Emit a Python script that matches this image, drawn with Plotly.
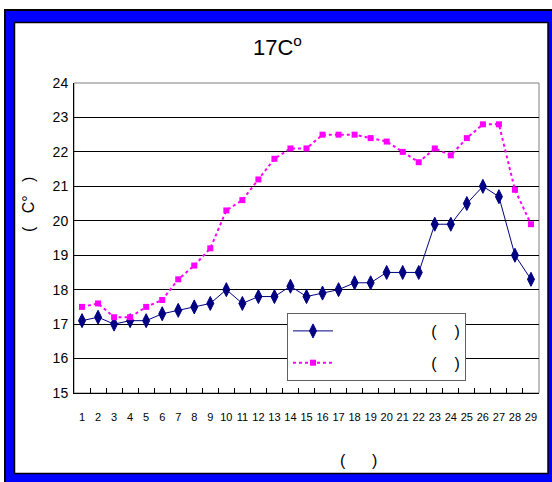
import plotly.graph_objects as go

# ---- data ----
days = [str(i) for i in range(1, 30)]
series1 = [17.1, 17.2, 17.0, 17.1, 17.1, 17.3, 17.4, 17.5, 17.6, 18.0,
           17.6, 17.8, 17.8, 18.1, 17.8, 17.9, 18.0, 18.2, 18.2, 18.5,
           18.5, 18.5, 19.9, 19.9, 20.5, 21.0, 20.7, 19.0, 18.3]
series2 = [17.5, 17.6, 17.2, 17.2, 17.5, 17.7, 18.3, 18.7, 19.2, 20.3,
           20.6, 21.2, 21.8, 22.1, 22.1, 22.5, 22.5, 22.5, 22.4, 22.3,
           22.0, 21.7, 22.1, 21.9, 22.4, 22.8, 22.8, 20.9, 19.9]
y_ticks = list(range(15, 25))

NB = "\u00a0"
name1 = NB * 21 + "(" + NB * 4 + ")"
name2 = NB * 21 + "(" + NB * 4 + ")"
title_text = "17C<sup>o</sup>"
ytitle_text = "(" + NB * 3 + "C°" + NB * 3 + ")"
xtitle_text = "(" + NB * 6 + ")"

# ---- geometry (pixel -> paper) ----
W, H = 552, 482
L, R, T, B = 74, 13, 83, 89
PW, PH = W - L - R, H - T - B


def px(X):
    return (X - L) / PW


def py(Y):
    return (H - B - Y) / PH


FONT = "Arial, Liberation Sans, sans-serif"

fig = go.Figure()
fig.add_trace(go.Scatter(
    x=days, y=series1, name=name1, mode="lines+markers",
    line=dict(color="#000080", width=1),
    marker=dict(symbol="diamond-tall", size=10, color="#000080",
                line=dict(color="#000080", width=1)),
    legendgroup="a",
))
fig.add_trace(go.Scatter(
    x=days, y=series2, name=name2, mode="lines+markers",
    line=dict(color="#FF00FF", width=2, dash="dot"),
    marker=dict(symbol="square", size=6, color="#FF00FF"),
    legendgroup="b",
))

shapes = [
    # outer blue frame
    dict(type="rect", xref="paper", yref="paper",
         x0=px(5), x1=px(620), y0=py(620), y1=py(10),
         fillcolor="#0000FF", line=dict(color="black", width=2), layer="below"),
    # inner white panel
    dict(type="rect", xref="paper", yref="paper",
         x0=px(14.5), x1=px(548), y0=py(473.5), y1=py(22.5),
         fillcolor="white", line=dict(color="black", width=1.5), layer="below"),
    # plot-area border
    dict(type="rect", xref="paper", yref="paper",
         x0=0, x1=1, y0=0, y1=1,
         line=dict(color="#808080", width=1), layer="below"),
]

annotations = [
    dict(text=title_text, xref="paper", yref="paper", x=px(277), y=py(46),
         xanchor="center", yanchor="middle", showarrow=False,
         font=dict(family=FONT, size=22, color="black")),
    dict(text=ytitle_text, xref="paper", yref="paper", x=px(28), y=py(205),
         xanchor="center", yanchor="middle", showarrow=False, textangle=-90,
         font=dict(family=FONT, size=16, color="black")),
    dict(text=xtitle_text, xref="paper", yref="paper", x=px(358.5), y=py(460),
         xanchor="center", yanchor="middle", showarrow=False,
         font=dict(family=FONT, size=16, color="black")),
]

fig.update_layout(
    width=W, height=H,
    margin=dict(l=L, r=R, t=T, b=B, pad=0),
    paper_bgcolor="white", plot_bgcolor="white",
    shapes=shapes, annotations=annotations,
    showlegend=True,
    legend=dict(x=px(287), y=py(313), xanchor="left", yanchor="top",
                bgcolor="white", bordercolor="#606060", borderwidth=1,
                font=dict(family=FONT, size=16, color="black"),
                tracegroupgap=8, itemwidth=40),
    xaxis=dict(type="category", categoryorder="array", categoryarray=days,
               range=[-0.5, len(days) - 0.5], autorange=False,
               showgrid=False, showline=True, linecolor="black", linewidth=1,
               ticks="inside", ticklen=5, tickcolor="black", tickson="boundaries",
               tickangle=0,
               tickfont=dict(family=FONT, size=11, color="black"),
               ticklabelstandoff=14, zeroline=False),
    yaxis=dict(range=[15, 24], tickvals=y_ticks, ticktext=[str(v) for v in y_ticks],
               showgrid=True, gridcolor="black", gridwidth=1,
               showline=True, linecolor="black", linewidth=1,
               ticks="", tickfont=dict(family=FONT, size=14, color="black"),
               ticklabelstandoff=2, zeroline=False),
)

fig.write_html("out.html")
